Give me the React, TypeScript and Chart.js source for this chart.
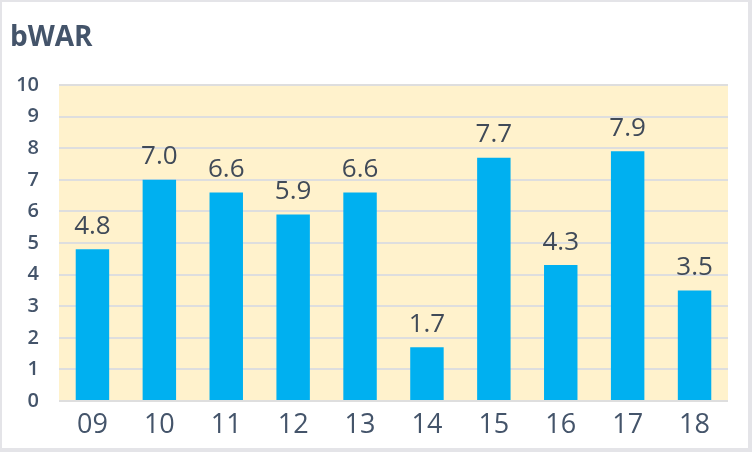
import { Chart, registerables } from "chart.js";
import { useEffect, useRef } from "react";

Chart.register(...registerables);

// 年度ごとの bWAR
const seasons = ["09", "10", "11", "12", "13", "14", "15", "16", "17", "18"];
const bwar = [4.8, 7.0, 6.6, 5.9, 6.6, 1.7, 7.7, 4.3, 7.9, 3.5];
const yMin = 0;
const yMax = 10;
const yStep = 1;

const TEXT = "#44546A";
const FONT = "'Open Sans', 'Noto Sans', sans-serif";

// fundo: moldura cinza + área do gráfico amarela
const backgroundPlugin = {
  id: "bg",
  beforeDraw(chart: any) {
    const { ctx, width, height, chartArea } = chart;
    ctx.save();
    ctx.fillStyle = "#e4e4e8";
    ctx.fillRect(0, 0, width, height);
    ctx.fillStyle = "#ffffff";
    ctx.fillRect(2, 2, width - 6, height - 6);
    ctx.fillStyle = "#FFF2CC";
    ctx.fillRect(
      chartArea.left,
      chartArea.top,
      chartArea.right - chartArea.left,
      chartArea.bottom - chartArea.top
    );
    ctx.restore();
  },
};

// rótulos de valor sobre as barras
const valueLabels = {
  id: "valueLabels",
  afterDatasetsDraw(chart: any) {
    const { ctx } = chart;
    const meta = chart.getDatasetMeta(0);
    ctx.save();
    ctx.fillStyle = "#404A58";
    ctx.font = `26px ${FONT}`;
    ctx.textAlign = "center";
    ctx.textBaseline = "middle";
    meta.data.forEach((bar: any, i: number) => {
      const v = chart.data.datasets[0].data[i] as number;
      ctx.fillText(v.toFixed(1), bar.x, bar.y - 23);
    });
    ctx.restore();
  },
};

export default function App() {
  const canvasRef = useRef<HTMLCanvasElement>(null);

  useEffect(() => {
    const ctx = canvasRef.current!.getContext("2d")!;
    const chart = new Chart(ctx, {
      type: "bar",
      data: {
        labels: seasons,
        datasets: [
          {
            label: "bWAR",
            data: bwar,
            backgroundColor: "#00B0F0",
            categoryPercentage: 1,
            barPercentage: 0.5,
          },
        ],
      },
      options: {
        responsive: false,
        animation: false,
        layout: { padding: { left: 10, right: 24, top: 0, bottom: 4 } },
        plugins: {
          legend: { display: false },
          tooltip: { enabled: false },
          title: {
            display: true,
            text: "bWAR",
            align: "start",
            color: TEXT,
            font: { family: FONT, size: 28, weight: "bold", lineHeight: 1.2 },
            padding: { top: 21, bottom: 30.4 },
          },
        },
        scales: {
          x: {
            grid: { display: false, drawTicks: false },
            border: { display: false },
            ticks: {
              color: TEXT,
              font: { family: FONT, size: 27 },
              padding: 8,
            },
            afterFit: (scale: any) => {
              scale.height = 47;
            },
          },
          y: {
            min: yMin,
            max: yMax,
            grid: { color: "#dedede", lineWidth: 2, drawTicks: false },
            border: { display: false },
            ticks: {
              stepSize: yStep,
              color: TEXT,
              font: { family: FONT, size: 20, weight: 600 },
              padding: 20,
            },
            afterFit: (scale: any) => {
              scale.width = 49;
            },
          },
        },
      },
      plugins: [backgroundPlugin, valueLabels],
    });

    return () => {
      chart.destroy();
    };
  }, []);

  return (
    <div style={{ position: "fixed", left: 0, top: 0, width: 752, height: 452 }}>
      <canvas ref={canvasRef} width={752} height={452}></canvas>
    </div>
  );
}
